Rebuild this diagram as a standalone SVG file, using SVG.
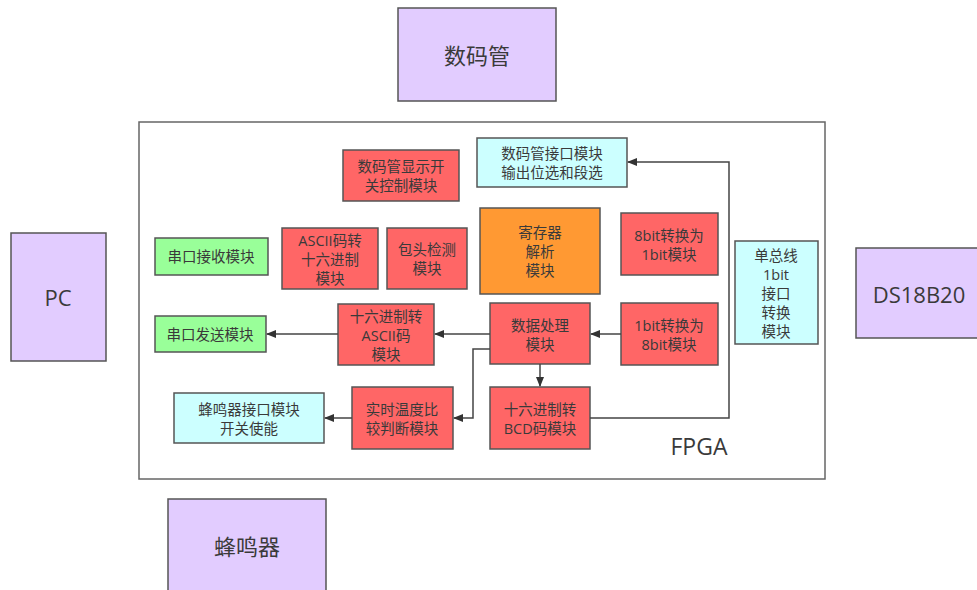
<svg xmlns="http://www.w3.org/2000/svg" width="977" height="590" viewBox="0 0 977 590">
<style>
text{font-family:"Open Sans","Noto Sans CJK SC",sans-serif;fill:#3a3a3a;text-anchor:middle;dominant-baseline:central}
.s{font-size:14.5px}
.b{font-size:22px}
rect{stroke:#555;stroke-width:1.5}
.pu{fill:#E2CCFF}
.rd{fill:#FF6666}
.gr{fill:#99FF99}
.cy{fill:#CCFFFF}
.or{fill:#FF9933}
.fr{fill:#fff;stroke:#666;stroke-width:1.5}
.c{fill:none;stroke:#444;stroke-width:1.5}
</style>
<defs>
<marker id="ah" markerWidth="10" markerHeight="8" refX="9" refY="4" orient="auto" markerUnits="userSpaceOnUse">
<path d="M0,0 L10,4 L0,8 Z" fill="#333"/>
</marker>
</defs>
<rect width="977" height="590" fill="#fff" style="stroke:none"/>
<g id="fpga"><rect class="fr" x="139" y="122" width="686" height="357"/><text x="699" y="446" style="font-size:23px">FPGA</text></g>
<g id="smg"><rect class="pu" x="398" y="8" width="158" height="93"/><text class="b" x="477" y="55">数码管</text></g>
<g id="pc"><rect class="pu" x="11" y="233" width="95" height="128"/><text class="b" x="58" y="297">PC</text></g>
<g id="ds"><rect class="pu" x="856" y="248" width="130" height="90"/><text class="b" x="919" y="294">DS18B20</text></g>
<g id="fmq"><rect class="pu" x="168" y="499" width="158" height="100"/><text class="b" x="247" y="546">蜂鸣器</text></g>

<g id="smgkg"><rect class="rd" x="343" y="150" width="116" height="51"/><text class="s" x="401" y="166">数码管显示开</text><text class="s" x="401" y="185">关控制模块</text></g>
<g id="smgjk"><rect class="cy" x="477" y="138" width="150" height="49"/><text class="s" x="552" y="153">数码管接口模块</text><text class="s" x="552" y="172">输出位选和段选</text></g>
<g id="ckjs"><rect class="gr" x="155" y="238" width="113" height="37"/><text class="s" x="211" y="256">串口接收模块</text></g>
<g id="a2h"><rect class="rd" x="282" y="228" width="96" height="61"/><text class="s" x="330" y="240">ASCII码转</text><text class="s" x="330" y="259">十六进制</text><text class="s" x="330" y="278">模块</text></g>
<g id="btjc"><rect class="rd" x="387" y="228" width="80" height="61"/><text class="s" x="427" y="249">包头检测</text><text class="s" x="427" y="268">模块</text></g>
<g id="jcq"><rect class="or" x="480" y="208" width="120" height="86"/><text class="s" x="540" y="232">寄存器</text><text class="s" x="540" y="251">解析</text><text class="s" x="540" y="270">模块</text></g>
<g id="b81"><rect class="rd" x="621" y="213" width="97" height="62"/><text class="s" x="669" y="235">8bit转换为</text><text class="s" x="669" y="254">1bit模块</text></g>
<g id="dzx"><rect class="cy" x="735" y="241" width="83" height="103"/><text class="s" x="776" y="255">单总线</text><text class="s" x="776" y="274">1bit</text><text class="s" x="776" y="293">接口</text><text class="s" x="776" y="312">转换</text><text class="s" x="776" y="331">模块</text></g>
<g id="ckfs"><rect class="gr" x="155" y="316" width="111" height="36"/><text class="s" x="210" y="334">串口发送模块</text></g>
<g id="h2a"><rect class="rd" x="338" y="304" width="96" height="61"/><text class="s" x="386" y="316">十六进制转</text><text class="s" x="386" y="335">ASCII码</text><text class="s" x="386" y="354">模块</text></g>
<g id="sjcl"><rect class="rd" x="490" y="303" width="100" height="61"/><text class="s" x="540" y="325">数据处理</text><text class="s" x="540" y="344">模块</text></g>
<g id="b18"><rect class="rd" x="621" y="303" width="97" height="62"/><text class="s" x="669" y="325">1bit转换为</text><text class="s" x="669" y="344">8bit模块</text></g>
<g id="fmqjk"><rect class="cy" x="174" y="393" width="150" height="50"/><text class="s" x="249" y="409">蜂鸣器接口模块</text><text class="s" x="249" y="428">开关使能</text></g>
<g id="sswd"><rect class="rd" x="352" y="387" width="101" height="62"/><text class="s" x="402" y="409">实时温度比</text><text class="s" x="402" y="428">较判断模块</text></g>
<g id="bcd"><rect class="rd" x="490" y="387" width="100" height="62"/><text class="s" x="540" y="409">十六进制转</text><text class="s" x="540" y="428">BCD码模块</text></g>

<g id="connectors">
<path class="c" d="M621,334 L591,334" marker-end="url(#ah)"/>
<path class="c" d="M490,334 L435,334" marker-end="url(#ah)"/>
<path class="c" d="M338,334 L267,334" marker-end="url(#ah)"/>
<path class="c" d="M540,364 L540,386" marker-end="url(#ah)"/>
<path class="c" d="M490,349 L473,349 L473,418 L454,418" marker-end="url(#ah)"/>
<path class="c" d="M352,418 L325,418" marker-end="url(#ah)"/>
<path class="c" d="M590,418 L729,418 L729,162 L628,162" marker-end="url(#ah)"/>
</g>
</svg>
